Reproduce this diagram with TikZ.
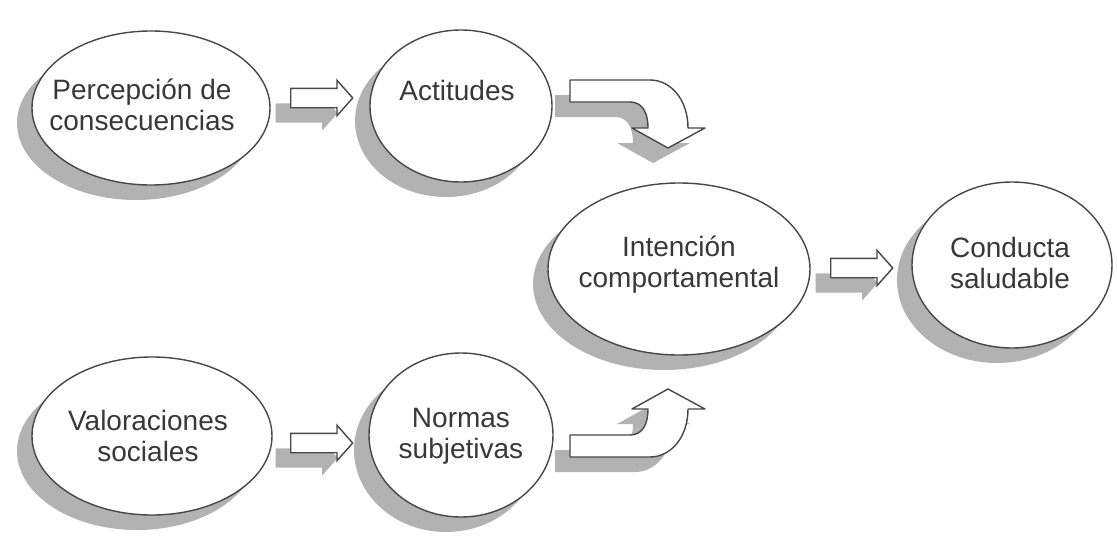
\documentclass[tikz,border=0pt]{standalone}
\usepackage{fontspec}
\setmainfont{Liberation Sans}
\usetikzlibrary{shapes.geometric,shapes.arrows,shadows}
\definecolor{edgegray}{HTML}{474747}
\definecolor{textgray}{HTML}{383838}
\definecolor{shadegray}{HTML}{B2B2B2}

\begin{document}
\begin{tikzpicture}[x=1pt,y=-1pt,
	shade off/.style={drop shadow={shadow xshift=-15pt,shadow yshift=-15pt,opacity=1,fill=shadegray}},
	bubble/.style={ellipse,draw=edgegray,line width=1.4pt,fill=white,inner sep=0pt,shade off},
	bubbletext/.style={align=center,text=textgray,inner sep=0pt,font=\fontsize{28}{31}\selectfont},
	blockarrow/.style={single arrow,draw=edgegray,line width=1.4pt,fill=white,inner xsep=0pt,inner ysep=9pt,
		minimum height=62pt,single arrow head extend=8pt,
		single arrow tip angle=97,anchor=tail,shade off},
	bentarrow/.style={draw=edgegray,line width=1.4pt,fill=white,line join=round,shade off}]
		\useasboundingbox (0,0) rectangle (1117,546);
		\node[bubble,minimum width=238pt,minimum height=154pt] (p) at (151,108){};
		\node[bubble,minimum width=182pt,minimum height=152pt] (a) at (461,106){};
		\node[bubble,minimum width=262pt,minimum height=172pt] (i) at (679,269){};
		\node[bubble,minimum width=200pt,minimum height=166pt] (c) at (1012,265){};
		\node[bubble,minimum width=240pt,minimum height=158pt] (v) at (152,436){};
		\node[bubble,minimum width=184pt,minimum height=164pt] (n) at (461,435){};
		\node[bubbletext] (pt) at ([xshift=-9pt,yshift=3pt]p.center){Percepción de\\consecuencias};
		\node[bubbletext] (at) at ([xshift=-4pt,yshift=16pt]a.center){Actitudes};
		\node[bubbletext] (it) at ([yshift=4pt]i.center){Intención\\comportamental};
		\node[bubbletext] (ct) at ([xshift=-2pt,yshift=2pt]c.center){Conducta\\saludable};
		\node[bubbletext] (vt) at ([xshift=-4pt]v.center){Valoraciones\\sociales};
		\node[bubbletext] (nt) at ([yshift=-1pt]n.center){Normas\\subjetivas};
		\node[blockarrow] (pa) at (290,98){};
		\node[blockarrow] (vn) at (290,443){};
		\node[blockarrow] (ic) at (830,268){};
		\draw[bentarrow] (570,80) -- (650,80) .. controls (671,80) and (688,100) .. (688,128)
			-- (705,128) -- (668,148) -- (632,128) -- (648,128)
			.. controls (648,112) and (642,102) .. (630,102) -- (570,102) -- cycle;
		\draw[bentarrow] (570,457) -- (650,457) .. controls (671,457) and (688,437) .. (688,409)
			-- (705,409) -- (668,389) -- (632,409) -- (648,409)
			.. controls (648,425) and (642,435) .. (630,435) -- (570,435) -- cycle;
	\end{tikzpicture}
\end{document}
